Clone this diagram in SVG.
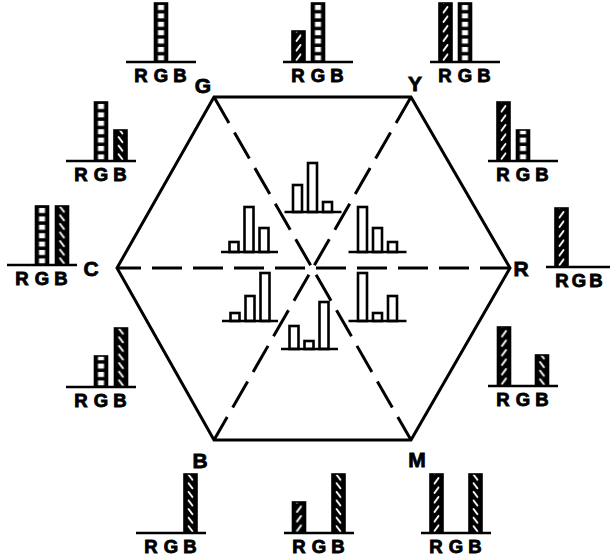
<svg xmlns="http://www.w3.org/2000/svg" xmlns:xlink="http://www.w3.org/1999/xlink" width="610" height="559" viewBox="0 0 610 559">
<style>
.hex{fill:none;stroke:#000;stroke-width:3;stroke-linejoin:miter}
.dash{fill:none;stroke:#000;stroke-width:3;stroke-dasharray:30 11}
.base{stroke:#000;stroke-width:2.6}
.bar{stroke:#000;stroke-width:1.6}
.ibar{fill:#fff;stroke:#000;stroke-width:2.6}
.lbl{font-family:"Liberation Sans",Arial,sans-serif;font-weight:bold;font-size:18.5px;text-anchor:middle;fill:#000;stroke:#000;stroke-width:0.9}
.vlbl{font-family:"Liberation Sans",Arial,sans-serif;font-weight:bold;font-size:21px;text-anchor:middle;fill:#000;stroke:#000;stroke-width:0.8}
</style>
<defs>
<pattern id="ladder" patternUnits="userSpaceOnUse" x="-6.5" y="0" width="13" height="8.4">
<rect width="13" height="8.4" fill="#000"/>
<rect x="3.5" y="1.8" width="6" height="5" fill="#fff"/>
</pattern>
<pattern id="hatchR" patternUnits="userSpaceOnUse" x="-6.5" y="0" width="13" height="9.5">
<rect width="13" height="9.5" fill="#000"/>
<line x1="4.5" y1="7.5" x2="8.5" y2="2" stroke="#fff" stroke-width="1.8" stroke-linecap="round"/>
</pattern>
<pattern id="hatchB" patternUnits="userSpaceOnUse" x="-6.5" y="0" width="13" height="8.6">
<rect width="13" height="8.6" fill="#000"/>
<line x1="4.5" y1="1.8" x2="8.5" y2="7" stroke="#fff" stroke-width="1.8" stroke-linecap="round"/>
</pattern>
<g id="rF"><rect x="-6.5" y="-59" width="13" height="59" fill="url(#hatchR)" class="bar"/></g>
<g id="rH"><rect x="-6.5" y="-31" width="13" height="31" fill="url(#hatchR)" class="bar"/></g>
<g id="gF"><rect x="-6.5" y="-59" width="13" height="59" fill="url(#ladder)" class="bar"/></g>
<g id="gH"><rect x="-6.5" y="-31" width="13" height="31" fill="url(#ladder)" class="bar"/></g>
<g id="bF"><rect x="-6.5" y="-59" width="13" height="59" fill="url(#hatchB)" class="bar"/></g>
<g id="bH"><rect x="-6.5" y="-31" width="13" height="31" fill="url(#hatchB)" class="bar"/></g>
<g id="axis">
<line x1="-35" y1="0" x2="35" y2="0" class="base"/>
<text x="-20" y="20" class="lbl">R</text>
<text x="0" y="20" class="lbl">G</text>
<text x="19" y="20" class="lbl">B</text>
</g>
<g id="axisR">
<line x1="-35" y1="0" x2="35" y2="0" class="base"/>
<text x="-19" y="20" class="lbl">R</text>
<text x="-2" y="20" class="lbl">G</text>
<text x="15" y="20" class="lbl">B</text>
</g>
</defs>
<rect width="610" height="559" fill="#fff"/>

<g id="hexagon">
<polygon class="hex" points="214,97 411,97 510,268 411,440 214,440 117,268"/>
</g>
<g id="connectors">
<line class="dash" x1="214" y1="97" x2="411" y2="440"/>
<line class="dash" x1="411" y1="97" x2="214" y2="440"/>
<line class="dash" x1="510" y1="268" x2="117" y2="268"/>
</g>

<g id="vertex-labels">
<text class="vlbl" x="203" y="92.5">G</text>
<text class="vlbl" x="415" y="91">Y</text>
<text class="vlbl" x="91" y="275.5">C</text>
<text class="vlbl" x="521" y="275.5">R</text>
<text class="vlbl" x="200" y="467.5">B</text>
<text class="vlbl" x="417" y="466.5">M</text>
</g>

<g id="chart-G" transform="translate(161,62)">
<use href="#gF"/>
<use href="#axis"/>
</g>
<g id="chart-GY" transform="translate(318,62)">
<use href="#rH" x="-19.5"/>
<use href="#gF"/>
<use href="#axis"/>
</g>
<g id="chart-Y" transform="translate(465,62)">
<use href="#rF" x="-19.5"/>
<use href="#gF"/>
<use href="#axis"/>
</g>
<g id="chart-GC" transform="translate(101,161)">
<use href="#gF"/>
<use href="#bH" x="19.5"/>
<use href="#axis"/>
</g>
<g id="chart-C" transform="translate(42,265)">
<use href="#gF"/>
<use href="#bF" x="20"/>
<use href="#axis"/>
</g>
<g id="chart-YR" transform="translate(523,161)">
<use href="#rF" x="-19.5"/>
<use href="#gH"/>
<use href="#axis"/>
</g>
<g id="chart-R" transform="translate(581,267)">
<use href="#rF" x="-19.5"/>
<use href="#axisR"/>
</g>
<g id="chart-CB" transform="translate(101,387)">
<use href="#gH"/>
<use href="#bF" x="20"/>
<use href="#axis"/>
</g>
<g id="chart-RM" transform="translate(523,386)">
<use href="#rF" x="-19"/>
<use href="#bH" x="19"/>
<use href="#axis"/>
</g>
<g id="chart-B" transform="translate(171,533)">
<use href="#bF" x="19.5"/>
<use href="#axis"/>
</g>
<g id="chart-BM" transform="translate(319,533)">
<use href="#rH" x="-20"/>
<use href="#bF" x="19.5"/>
<use href="#axis"/>
</g>
<g id="chart-M" transform="translate(456,533)">
<use href="#rF" x="-19.5"/>
<use href="#bF" x="19.5"/>
<use href="#axis"/>
</g>

<g id="inner-top" transform="translate(312.5,212)">
<rect class="ibar" x="-19.5" y="-27" width="9" height="27"/>
<rect class="ibar" x="-4.5" y="-49" width="9" height="49"/>
<rect class="ibar" x="10.5" y="-10" width="9" height="10"/>
<line class="base" x1="-28" y1="0" x2="29" y2="0"/>
</g>
<g id="inner-left" transform="translate(249,252)">
<rect class="ibar" x="-19.5" y="-10" width="9" height="10"/>
<rect class="ibar" x="-4.5" y="-45" width="9" height="45"/>
<rect class="ibar" x="10.5" y="-24" width="9" height="24"/>
<line class="base" x1="-28" y1="0" x2="29" y2="0"/>
</g>
<g id="inner-right" transform="translate(377.5,252)">
<rect class="ibar" x="-19.5" y="-45" width="9" height="45"/>
<rect class="ibar" x="-4.5" y="-24" width="9" height="24"/>
<rect class="ibar" x="10.5" y="-10" width="9" height="10"/>
<line class="base" x1="-29" y1="0" x2="29" y2="0"/>
</g>
<g id="inner-lower-left" transform="translate(250,321)">
<rect class="ibar" x="-19.5" y="-8" width="9" height="8"/>
<rect class="ibar" x="-4.5" y="-25" width="9" height="25"/>
<rect class="ibar" x="10.5" y="-48" width="9" height="48"/>
<line class="base" x1="-28" y1="0" x2="28" y2="0"/>
</g>
<g id="inner-lower-right" transform="translate(377.5,321)">
<rect class="ibar" x="-19.5" y="-48" width="9" height="48"/>
<rect class="ibar" x="-4.5" y="-8" width="9" height="8"/>
<rect class="ibar" x="10.5" y="-25" width="9" height="25"/>
<line class="base" x1="-29" y1="0" x2="29" y2="0"/>
</g>
<g id="inner-bottom" transform="translate(309,349)">
<rect class="ibar" x="-19.5" y="-23" width="9" height="23"/>
<rect class="ibar" x="-4.5" y="-8" width="9" height="8"/>
<rect class="ibar" x="10.5" y="-47" width="9" height="47"/>
<line class="base" x1="-28" y1="0" x2="29" y2="0"/>
</g>
</svg>
